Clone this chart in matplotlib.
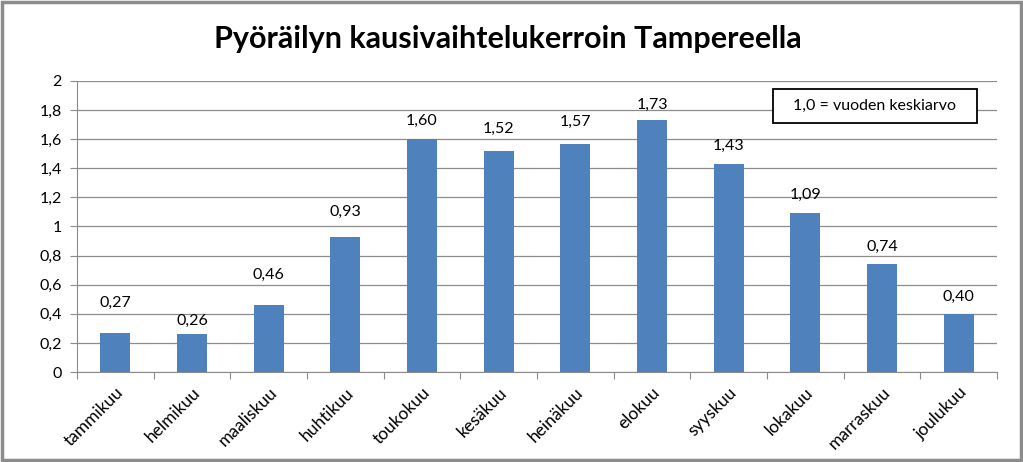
import matplotlib
matplotlib.use("Agg")
import matplotlib.pyplot as plt
from matplotlib.patches import Rectangle

months = ["tammikuu", "helmikuu", "maaliskuu", "huhtikuu", "toukokuu", "kesäkuu",
          "heinäkuu", "elokuu", "syyskuu", "lokakuu", "marraskuu", "joulukuu"]
values = [0.27, 0.26, 0.46, 0.93, 1.60, 1.52, 1.57, 1.73, 1.43, 1.09, 0.74, 0.40]
labels = ["0,27", "0,26", "0,46", "0,93", "1,60", "1,52", "1,57", "1,73", "1,43", "1,09", "0,74", "0,40"]
yticks = [0, 0.2, 0.4, 0.6, 0.8, 1.0, 1.2, 1.4, 1.6, 1.8, 2.0]
ytick_labels = ["0", "0,2", "0,4", "0,6", "0,8", "1", "1,2", "1,4", "1,6", "1,8", "2"]

plt.rcParams['font.family'] = ['Lato', 'DejaVu Sans']

fig = plt.figure(figsize=(10.23, 4.62), dpi=100)
ax = fig.add_axes([0.0753, 0.1948, 0.8993, 0.6299])

x = list(range(len(months)))
ax.bar(x, values, width=0.39, color="#4F81BD", zorder=3)
ax.set_xlim(-0.5, len(months) - 0.5)
ax.set_ylim(0, 2)
ax.set_yticks(yticks)
ax.set_yticklabels(ytick_labels, fontsize=11.5)
ax.yaxis.grid(True, color="#8C8C8C", linewidth=0.9, zorder=0)
ax.set_axisbelow(True)
for s in ["top", "right"]:
    ax.spines[s].set_visible(False)
ax.spines["left"].set_color("#8C8C8C")
ax.spines["bottom"].set_color("#8C8C8C")
ax.tick_params(axis="y", length=5, color="#8C8C8C", pad=6)
ax.set_xticks([i - 0.5 for i in range(len(months) + 1)], minor=False)
ax.set_xticklabels([])
ax.tick_params(axis="x", length=5, color="#8C8C8C")
ax.set_xticks(x, minor=True)
ax.set_xticklabels(months, minor=True, rotation=45, ha="right", rotation_mode="anchor", fontsize=12.5)
ax.tick_params(axis="x", which="minor", length=0, pad=9)

# label placement (pixels above bar top, label centre), as in the original manual layout
label_gap_px = [30, 13, 30, 25, 18, 22, 22, 15, 18, 19, 17, 17]
for xi, v, lab, g in zip(x, values, labels, label_gap_px):
    ax.annotate(lab, (xi, v), xytext=(0, g), textcoords="offset pixels",
                ha="center", va="center", fontsize=11.5)

fig.text(0.4966, 0.896, "Pyöräilyn kausivaihtelukerroin Tampereella", ha="center", va="baseline",
         fontsize=22, fontweight="bold")

fig.patches.append(Rectangle((0.7556, 0.7338), 0.1994, 0.0736, transform=fig.transFigure,
                             facecolor="white", edgecolor="black", linewidth=1.3, zorder=2))
fig.text(0.8553, 0.7706, "1,0 = vuoden keskiarvo", ha="center", va="center", fontsize=11.5, zorder=3)

fig.patches.append(Rectangle((0.002, 0.004), 0.996, 0.992, transform=fig.transFigure,
                             fill=False, edgecolor="#8C8C8C", linewidth=2.5))

fig.savefig("out.png", dpi=100)
